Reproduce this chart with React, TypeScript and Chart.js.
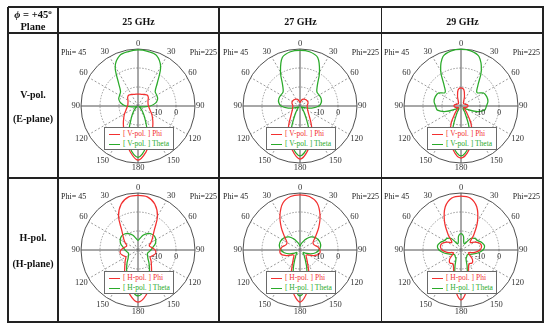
import React, { useEffect, useRef } from "react";
import { Chart, registerables } from "chart.js";

Chart.register(...registerables);

// ---- data ----
const ANGLES = [0, 10, 20, 30, 40, 50, 60, 70, 80, 90, 100, 110, 120, 130, 140, 150, 160, 170, 180,
  190, 200, 210, 220, 230, 240, 250, 260, 270, 280, 290, 300, 310, 320, 330, 340, 350];
const ANGLE_TICKS = [0, 30, 60, 90, 120, 150, 180, 210, 240, 270, 300, 330];
const RADIAL_LABELS = [-10, 0];
const FREQUENCIES = ["25 GHz", "27 GHz", "29 GHz"];

const V25_PHI = [-13.8, -13.7, -13.5, -13.0, -12.5, -12.9, -13.9, -14.4, -14.6, -14.5, -14.0, -13.2, -11.7, -10.0, -7.8, -5.0, -1.0, 4.5, 8.5,
  4.3, -1.2, -5.2, -8.0, -10.2, -11.8, -13.2, -14.0, -14.5, -14.6, -14.4, -13.9, -12.9, -12.5, -13.0, -13.5, -13.7];
const V25_THETA = [9.5, 9.2, 8.4, 3.8, -4.2, -8.2, -8.6, -9.0, -10.5, -13.5, -17.0, -19.0, -19.3, -18.5, -16.5, -13.0, -6.0, 2.5, 7.0,
  2.8, -6.2, -13.2, -16.5, -18.5, -19.3, -19.0, -17.0, -13.5, -10.8, -9.2, -8.8, -8.0, -4.0, 4.0, 8.2, 9.1];
const V27_PHI = [-18.2, -17.4, -16.3, -15.8, -15.5, -15.4, -15.3, -15.5, -16.0, -16.3, -16.0, -15.8, -15.3, -14.2, -12.1, -7.9, -2.6, 3.7, 7.9,
  3.5, -2.8, -8.0, -12.2, -14.2, -15.3, -15.8, -16.0, -16.3, -16.0, -15.5, -15.3, -15.4, -15.5, -15.8, -16.3, -17.4];
const V27_THETA = [9.3, 9.0, 7.2, 0.5, -5.8, -8.4, -8.4, -8.2, -8.6, -10.0, -13.7, -17.4, -19.0, -19.0, -17.9, -14.7, -6.3, 2.1, 6.3,
  2.0, -6.5, -14.7, -17.9, -19.0, -19.0, -17.4, -13.7, -10.0, -8.6, -8.2, -8.4, -8.4, -5.8, 0.5, 7.2, 9.0];
const V29_PHI = [-10.4, -11.3, -14.7, -17.2, -17.9, -18.2, -17.9, -17.4, -16.6, -16.3, -16.8, -17.9, -18.4, -17.4, -15.3, -9.5, -3.2, 3.7, 7.4,
  3.5, -3.4, -9.7, -15.3, -17.4, -18.4, -17.9, -16.8, -16.3, -16.6, -17.4, -17.9, -18.2, -17.9, -17.2, -14.7, -11.3];
const V29_THETA = [9.8, 9.5, 7.7, 1.4, -6.3, -9.0, -6.3, -5.6, -5.6, -6.6, -7.4, -11.6, -16.8, -18.4, -18.4, -15.8, -7.4, 2.1, 6.3,
  2.0, -7.6, -15.8, -18.4, -18.4, -16.8, -11.6, -7.4, -6.6, -5.6, -5.6, -6.3, -9.0, -6.3, 1.4, 7.7, 9.5];
const H25_PHI = [8.8, 8.4, 5.8, 0.5, -6.8, -10.0, -12.1, -13.7, -12.6, -11.0, -10.5, -11.6, -12.6, -11.0, -9.0, -5.8, -1.6, 4.2, 7.4,
  4.0, -1.8, -6.0, -9.2, -11.2, -12.6, -11.6, -10.5, -11.0, -12.6, -13.7, -12.1, -10.0, -6.8, 0.5, 5.8, 8.4];
const H25_THETA = [-14.9, -13.7, -11.6, -10.0, -9.0, -8.7, -9.2, -10.3, -12.1, -13.2, -14.2, -14.7, -14.2, -13.2, -11.0, -7.9, -4.2, 1.0, 4.2,
  0.8, -4.4, -8.0, -11.0, -13.2, -14.2, -14.7, -14.2, -13.2, -12.1, -10.3, -9.2, -8.7, -9.0, -10.0, -11.6, -13.7];
const H27_PHI = [9.0, 8.6, 6.3, 1.1, -4.7, -9.5, -12.1, -12.1, -10.5, -9.5, -9.5, -11.6, -14.7, -15.8, -14.7, -12.1, -6.3, 2.1, 7.4,
  2.0, -6.5, -12.2, -14.7, -15.8, -14.7, -11.6, -9.5, -9.5, -10.5, -12.1, -12.1, -9.5, -4.7, 1.1, 6.3, 8.6];
const H27_THETA = [-17.9, -16.8, -15.3, -13.2, -11.0, -9.7, -9.0, -8.7, -9.0, -10.0, -11.6, -14.2, -16.8, -17.9, -16.8, -14.7, -9.5, -1.0, 4.2,
  -1.2, -9.7, -14.7, -16.8, -17.9, -16.8, -14.2, -11.6, -10.0, -9.0, -8.7, -9.0, -9.7, -11.0, -13.2, -15.3, -16.8];
const H29_PHI = [8.4, 7.8, 4.2, -2.6, -9.5, -13.7, -11.6, -9.5, -9.0, -10.0, -12.6, -15.8, -14.7, -12.1, -11.0, -11.6, -8.4, 0.0, 6.3,
  -0.2, -8.6, -11.6, -11.0, -12.1, -14.7, -15.8, -12.6, -10.0, -9.0, -9.5, -11.6, -13.7, -9.5, -2.6, 4.2, 7.8];
const H29_THETA = [-11.4, -12.6, -15.8, -16.3, -12.1, -10.5, -10.0, -8.4, -7.4, -8.4, -11.0, -13.7, -15.3, -15.8, -15.3, -14.7, -10.5, -2.1, 3.2,
  -2.3, -10.7, -14.7, -15.3, -15.8, -15.3, -13.7, -11.0, -8.4, -7.4, -8.4, -10.0, -10.5, -12.1, -16.3, -15.8, -12.6];

// ---- styling ----
const RED = "#f23030";
const GREEN = "#2aaa2a";
const SERIF = '"Liberation Serif", "Times New Roman", serif';

const PLOTS = [
  { cx: 138, cy: 106, pol: "V-pol.", phi: V25_PHI, theta: V25_THETA },
  { cx: 300, cy: 106, pol: "V-pol.", phi: V27_PHI, theta: V27_THETA },
  { cx: 461, cy: 106, pol: "V-pol.", phi: V29_PHI, theta: V29_THETA },
  { cx: 138, cy: 250, pol: "H-pol.", phi: H25_PHI, theta: H25_THETA },
  { cx: 300, cy: 250, pol: "H-pol.", phi: H27_PHI, theta: H27_THETA },
  { cx: 461, cy: 250, pol: "H-pol.", phi: H29_PHI, theta: H29_THETA },
];

const labelPlugin = {
  id: "polarLabels",
  afterDraw(chart: any) {
    const scale = chart.scales.r;
    const ctx = chart.ctx;
    ctx.save();
    ctx.fillStyle = "#333";
    ctx.font = `8.5px ${SERIF}`;
    ANGLES.forEach((a, i) => {
      if (!ANGLE_TICKS.includes(a)) return;
      const p = scale.getPointPosition(i, scale.drawingArea + 1);
      ctx.textAlign = a === 0 || a === 180 ? "center" : a < 180 ? "left" : "right";
      ctx.textBaseline = a === 90 || a === 270 ? "middle" : a < 90 || a > 270 ? "bottom" : "top";
      ctx.fillText(String(a <= 180 ? a : 360 - a), p.x, p.y);
    });
    ctx.fillStyle = "#222";
    ctx.font = `7.5px ${SERIF}`;
    ctx.textAlign = "center";
    ctx.textBaseline = "middle";
    RADIAL_LABELS.forEach((v) => {
      const d = scale.getDistanceFromCenterForValue(v);
      ctx.fillText(String(v), scale.xCenter + d, scale.yCenter + 7);
    });
    ctx.restore();
  },
};

function PolarPlot({ cx, cy, pol, phi, theta }: any) {
  const ref = useRef<HTMLCanvasElement>(null);
  useEffect(() => {
    if (!ref.current) return;
    const chart = new Chart(ref.current, {
      type: "radar",
      data: {
        labels: ANGLES.map(String),
        datasets: [
          { label: `[ ${pol} ] Phi`, data: phi, borderColor: RED, borderWidth: 1.25, pointRadius: 0, fill: false, tension: 0.35 },
          { label: `[ ${pol} ] Theta`, data: theta, borderColor: GREEN, borderWidth: 1.25, pointRadius: 0, fill: false, tension: 0.35 },
        ],
      },
      options: {
        responsive: false,
        animation: false,
        layout: { padding: { left: 23, right: 23, top: 15, bottom: 15 } },
        plugins: { legend: { display: false }, tooltip: { enabled: false } },
        scales: {
          r: {
            min: -20,
            max: 10,
            ticks: { display: false, stepSize: 10 },
            pointLabels: { display: false },
            grid: {
              circular: true,
              color: (c: any) => (c.tick && c.tick.value === 10 ? "#505050" : "#999"),
              lineWidth: 1,
            },
            border: { dash: (c: any) => (c.tick && c.tick.value === 10 ? [] : [1.5, 1.5]) },
            angleLines: {
              color: (c: any) => (ANGLES[c.index] % 90 === 0 ? "#505050" : "#999"),
              lineWidth: (c: any) => (ANGLES[c.index] % 30 === 0 ? 1 : 0),
              borderDash: (c: any) => (ANGLES[c.index] % 90 === 0 ? [] : [2, 2]),
            },
          },
        },
      } as any,
      plugins: [labelPlugin],
    });
    return () => chart.destroy();
  }, []);

  const legendRow = (color: string, text: string, top: number) => (
    <div style={{ position: "absolute", left: 0, top, height: 10, width: "100%" }}>
      <div style={{ position: "absolute", left: 4, top: 4.5, width: 11, height: 1.5, background: color }} />
      <div style={{ position: "absolute", left: 18, top: 0, lineHeight: "10px", fontSize: 7.5, color, whiteSpace: "nowrap" }}>{text}</div>
    </div>
  );

  return (
    <>
      <canvas ref={ref} width={160} height={144}
        style={{ position: "absolute", left: cx - 80, top: cy - 72, width: 160, height: 144 }} />
      <div style={{ position: "absolute", left: cx - 77, top: cy - 58, fontSize: 8, lineHeight: "10px", color: "#222" }}>Phi= 45</div>
      <div style={{ position: "absolute", right: 550 - (cx + 79), top: cy - 58, fontSize: 8, lineHeight: "10px", color: "#222" }}>Phi=225</div>
      <div style={{ position: "absolute", left: cx - 34, top: cy + 21, width: 68, height: 21, border: "1px solid #6a6a6a", background: "#fff", fontFamily: SERIF }}>
        {legendRow(RED, `[ ${pol} ] Phi`, 1)}
        {legendRow(GREEN, `[ ${pol} ] Theta`, 11)}
      </div>
    </>
  );
}

const LINE = "#222";
function HLine({ y }: { y: number }) {
  return <div style={{ position: "absolute", left: 8, top: y - 0.75, width: 535.5, height: 1.5, background: LINE }} />;
}
function VLine({ x }: { x: number }) {
  return <div style={{ position: "absolute", left: x - 0.75, top: 7, width: 1.5, height: 315.5, background: LINE }} />;
}

function Text({ x, y, w, children, size = 10 }: any) {
  return (
    <div style={{ position: "absolute", left: x - w / 2, top: y - 6, width: w, height: 12, lineHeight: "12px", textAlign: "center", fontWeight: "bold", fontSize: size, whiteSpace: "nowrap" }}>
      {children}
    </div>
  );
}

export default function App() {
  const colCenters = [138.5, 300.5, 462.5];
  return (
    <div style={{ position: "absolute", left: 0, top: 0, width: 550, height: 330, background: "#fff", fontFamily: SERIF, color: "#111", overflow: "hidden" }}>
      {PLOTS.map((p, i) => <PolarPlot key={i} {...p} />)}
      <HLine y={7} />
      <HLine y={33} />
      <HLine y={178} />
      <HLine y={322} />
      <VLine x={8} />
      <VLine x={58} />
      <VLine x={219} />
      <VLine x={381.5} />
      <VLine x={543} />
      <Text x={33} y={15} w={50} size={10.5}>
        <i>ϕ</i> = +45<span style={{ fontSize: 7, position: "relative", top: -4 }}>o</span>
      </Text>
      <Text x={33} y={27} w={50} size={10.5}>Plane</Text>
      {FREQUENCIES.map((f, i) => <Text key={f} x={colCenters[i]} y={21.5} w={100}>{f}</Text>)}
      <Text x={33} y={95} w={50}>V-pol.</Text>
      <Text x={33} y={119} w={50}>(E-plane)</Text>
      <Text x={33} y={238} w={50}>H-pol.</Text>
      <Text x={33} y={264} w={50}>(H-plane)</Text>
    </div>
  );
}
